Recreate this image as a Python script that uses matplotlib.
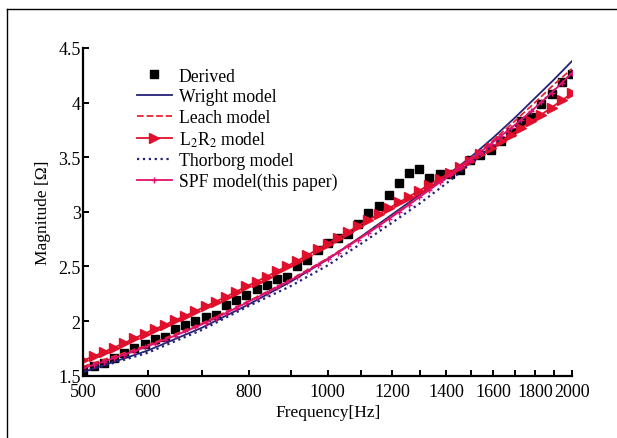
import matplotlib
matplotlib.use('Agg')
import matplotlib.pyplot as plt
from matplotlib.lines import Line2D

plt.rcParams['font.family'] = ['Liberation Serif', 'DejaVu Serif']
plt.rcParams['mathtext.fontset'] = 'stix'

# frequencies of the measured points and the marked model curves
freq = [500, 514.7, 529.7, 545.3, 561.2, 577.7, 594.6, 612.0, 630.0, 648.4,
        667.4, 687.0, 707.1, 727.8, 749.2, 771.1, 793.7, 817.0, 840.9, 865.5,
        890.9, 917.0, 943.9, 971.5, 1000, 1029.3, 1059.5, 1090.5, 1122.5, 1155.4,
        1189.2, 1224.1, 1259.9, 1296.8, 1334.8, 1374.0, 1414.2, 1455.7, 1498.3,
        1542.2, 1587.4, 1633.9, 1681.8, 1731.1, 1781.8, 1834.0, 1887.7, 1943.1, 2000]

derived = [1.55, 1.585, 1.62, 1.66, 1.706, 1.758, 1.788, 1.836, 1.858, 1.924,
           1.964, 2.0, 2.04, 2.055, 2.15, 2.19, 2.236, 2.297, 2.333, 2.388,
           2.403, 2.503, 2.555, 2.65, 2.712, 2.76, 2.80, 2.89, 2.985, 3.05,
           3.155, 3.26, 3.36, 3.395, 3.312, 3.342, 3.348, 3.38, 3.479, 3.524,
           3.57, 3.65, 3.733, 3.836, 3.867, 3.988, 4.076, 4.19, 4.26]

l2r2 = [1.640, 1.678, 1.717, 1.758, 1.799, 1.842, 1.886, 1.926, 1.966, 2.007,
        2.048, 2.091, 2.135, 2.178, 2.223, 2.269, 2.317, 2.362, 2.408, 2.455,
        2.503, 2.552, 2.603, 2.656, 2.710, 2.763, 2.817, 2.873, 2.926, 2.979,
        3.033, 3.086, 3.140, 3.195, 3.249, 3.304, 3.358, 3.412, 3.468, 3.525,
        3.584, 3.644, 3.706, 3.767, 3.828, 3.891, 3.955, 4.020, 4.085]

spf = [1.570, 1.599, 1.629, 1.661, 1.692, 1.725, 1.759, 1.794, 1.830, 1.867,
       1.905, 1.944, 1.985, 2.028, 2.073, 2.119, 2.167, 2.213, 2.260, 2.308,
       2.357, 2.408, 2.461, 2.514, 2.570, 2.627, 2.686, 2.746, 2.808, 2.870,
       2.935, 2.999, 3.066, 3.134, 3.201, 3.269, 3.338, 3.407, 3.477, 3.548,
       3.620, 3.693, 3.767, 3.843, 3.922, 4.004, 4.090, 4.179, 4.270]

# line-only models, read every 100 Hz
f_key = [500, 600, 700, 800, 900, 1000, 1100, 1200, 1300, 1400,
         1500, 1600, 1700, 1800, 1900, 2000]
wright = [1.535, 1.73, 1.94, 2.155, 2.36, 2.565, 2.775, 2.975, 3.16, 3.33,
          3.50, 3.68, 3.86, 4.04, 4.21, 4.38]
leach = [1.585, 1.78, 1.98, 2.185, 2.38, 2.575, 2.77, 2.96, 3.145, 3.32,
         3.49, 3.655, 3.83, 4.00, 4.165, 4.31]
thorborg = [1.535, 1.71, 1.92, 2.14, 2.32, 2.51, 2.71, 2.90, 3.08, 3.26,
            3.44, 3.61, 3.78, 3.95, 4.11, 4.27]

x_ticks = [500, 600, 700, 800, 900, 1000, 1100, 1200, 1300, 1400,
           1500, 1600, 1700, 1800, 1900, 2000]
x_labels = ['500', '600', '', '800', '', '1000', '', '1200', '', '1400',
            '', '1600', '', '1800', '', '2000']
y_ticks = [1.5, 2, 2.5, 3, 3.5, 4, 4.5]
y_labels = ['1.5', '2', '2.5', '3', '3.5', '4', '4.5']

fig = plt.figure(figsize=(6.17, 4.39), dpi=100)
ax = fig.add_axes([0.1353, 0.1419, 0.7917, 0.7465])

ax.plot(freq, derived, 's', color='black', ms=5.6, label='Derived')
ax.plot(f_key, wright, '-', color='#232178', lw=1.3, label='Wright model')
ax.plot(f_key, leach, '--', color='#e8242e', lw=1.3, label='Leach model')
ax.plot(freq, l2r2, '->', color='#e0102c', lw=1.3, ms=6.5, label='L$_2$R$_2$ model')
ax.plot(f_key, thorborg, ':', color='#232178', lw=1.6, label='Thorborg model')
ax.plot(freq, spf, '-+', color='#e0106e', lw=1.3, ms=4, mew=1, label='SPF model(this paper)')

ax.set_xscale('log')
ax.set_xlim(500, 2000)
ax.set_ylim(1.5, 4.5)
ax.minorticks_off()
ax.set_xticks(x_ticks)
ax.set_xticklabels(x_labels)
ax.set_yticks(y_ticks)
ax.set_yticklabels(y_labels)
ax.tick_params(direction='in', length=4, width=1.4, labelsize=13, pad=2)
ax.tick_params(axis='x', pad=5)

for s in ['top', 'right']:
    ax.spines[s].set_visible(False)
for s in ['left', 'bottom']:
    ax.spines[s].set_linewidth(1.6)

ax.set_xlabel('Frequency[Hz]', fontsize=12.5, labelpad=3)
ax.set_ylabel('Magnitude [Ω]', fontsize=12.5, labelpad=5)

ax.legend(loc='upper left', bbox_to_anchor=(0.11, 0.94), frameon=False,
          fontsize=12.7, handlelength=1.95, handletextpad=0.4, labelspacing=0.2,
          borderpad=0, borderaxespad=0)

# thin frame lines at the left and top of the picture
fig.add_artist(Line2D([0.011, 0.011], [0, 0.978], color='black', lw=1))
fig.add_artist(Line2D([0.011, 1], [0.978, 0.978], color='black', lw=1))

fig.savefig('out.png', dpi=100)
